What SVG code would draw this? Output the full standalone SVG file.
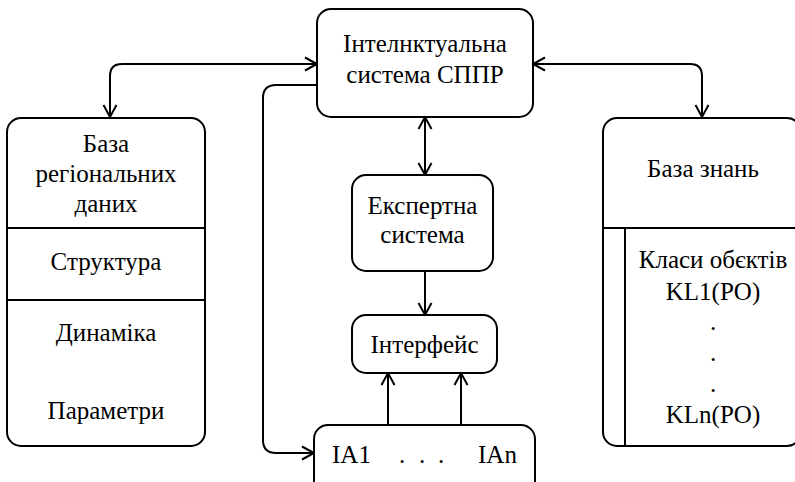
<svg xmlns="http://www.w3.org/2000/svg" width="795" height="482" viewBox="0 0 795 482">
<style>
.box{fill:#fff;stroke:#000;stroke-width:2}
.ln{fill:none;stroke:#000;stroke-width:2}
.t{font-family:'Liberation Serif','Times New Roman',serif;font-size:25px;fill:#000;text-anchor:middle}
</style>
<defs>
<marker id="arr" markerUnits="userSpaceOnUse" markerWidth="16" markerHeight="16" refX="12" refY="6.5" orient="auto-start-reverse" overflow="visible">
<path d="M0,0 L12,6.5 L0,13" fill="none" stroke="#000" stroke-width="2"/>
</marker>
</defs>
<rect width="795" height="482" fill="#fff"/>
<g id="connectors">
<path class="ln" d="M317,64 H122 Q110,64 110,76 V117" marker-start="url(#arr)" marker-end="url(#arr)"/>
<path class="ln" d="M533,64 H690 Q702,64 702,76 V117" marker-start="url(#arr)" marker-end="url(#arr)"/>
<path class="ln" d="M425,117 V175" marker-start="url(#arr)" marker-end="url(#arr)"/>
<path class="ln" d="M425,271 V315" marker-end="url(#arr)"/>
<path class="ln" d="M388,425 V373" marker-end="url(#arr)"/>
<path class="ln" d="M461,425 V373" marker-end="url(#arr)"/>
<path class="ln" d="M317,85 H276 Q263,85 263,98 V440 Q263,453 276,453 H314" marker-end="url(#arr)"/>
</g>
<g id="dss">
<rect class="box" x="317" y="9" width="216" height="108" rx="14"/>
<text class="t" font-family="Liberation Serif" x="425" y="52">Інтелнктуальна</text>
<text class="t" font-family="Liberation Serif" x="425" y="83">система СППР</text>
</g>
<g id="regional-db">
<rect class="box" x="7" y="118" width="198" height="328" rx="14"/>
<line class="ln" x1="7" y1="228" x2="205" y2="228"/>
<line class="ln" x1="7" y1="300" x2="205" y2="300"/>
<text class="t" font-family="Liberation Serif" x="106" y="152">База</text>
<text class="t" font-family="Liberation Serif" x="106" y="182">регіональних</text>
<text class="t" font-family="Liberation Serif" x="106" y="212">даних</text>
<text class="t" font-family="Liberation Serif" x="106" y="270">Структура</text>
<text class="t" font-family="Liberation Serif" x="106" y="341">Динаміка</text>
<text class="t" font-family="Liberation Serif" x="106" y="419">Параметри</text>
</g>
<g id="knowledge-base">
<rect class="box" x="603" y="118" width="198" height="328" rx="14"/>
<line class="ln" x1="603" y1="228" x2="801" y2="228"/>
<line class="ln" x1="625" y1="228" x2="625" y2="446"/>
<text class="t" font-family="Liberation Serif" x="703" y="177">База знань</text>
<text class="t" font-family="Liberation Serif" x="713" y="268">Класи обєктів</text>
<text class="t" font-family="Liberation Serif" x="713" y="300">KL1(PO)</text>
<text class="t" font-family="Liberation Serif" x="713" y="330">.</text>
<text class="t" font-family="Liberation Serif" x="713" y="361">.</text>
<text class="t" font-family="Liberation Serif" x="713" y="392">.</text>
<text class="t" font-family="Liberation Serif" x="713" y="423">KLn(PO)</text>
</g>
<g id="expert-system">
<rect class="box" x="352" y="175" width="141" height="96" rx="14"/>
<text class="t" font-family="Liberation Serif" x="422.5" y="214">Експертна</text>
<text class="t" font-family="Liberation Serif" x="422.5" y="243">система</text>
</g>
<g id="interface">
<rect class="box" x="352" y="315" width="145" height="58" rx="14"/>
<text class="t" font-family="Liberation Serif" x="424.5" y="353">Інтерфейс</text>
</g>
<g id="agents">
<rect class="box" x="314" y="425" width="221" height="70" rx="14"/>
<text class="t" font-family="Liberation Serif" y="463"><tspan x="351.5">IA1</tspan><tspan x="402">.</tspan><tspan x="422">.</tspan><tspan x="441">.</tspan><tspan x="497.5">IAn</tspan></text>
</g>
</svg>
